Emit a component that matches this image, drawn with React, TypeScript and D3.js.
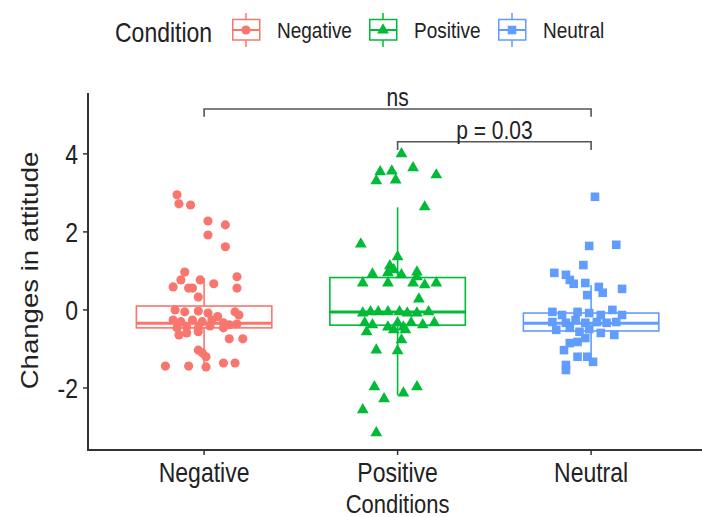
import React from "react";
import * as d3 from "d3";

// categories and colours (ggplot defaults)
const categories = ["Negative", "Positive", "Neutral"];
const colors = ["#F8766D", "#00BA38", "#619CFF"];
const yTicks = [-2, 0, 2, 4];

// [jitter (category units), change in attitude]
const negativePoints: [number, number][] = [
  [-0.14, 2.95], [-0.13, 2.72], [-0.07, 2.69], [0.02, 2.28], [0.11, 2.18],
  [0.02, 1.92], [0.11, 1.62], [-0.1, 0.97], [0.17, 0.85], [-0.12, 0.77],
  [-0.02, 0.77], [0.05, 0.67], [-0.16, 0.59], [-0.08, 0.56], [-0.06, 0.56],
  [0.17, 0.56], [-0.03, 0.33], [-0.15, 0.0], [-0.1, -0.05], [-0.03, -0.03],
  [0.02, -0.08], [0.07, -0.17], [0.16, -0.05], [0.18, -0.13], [-0.16, -0.26],
  [-0.12, -0.3], [-0.06, -0.26], [-0.01, -0.3], [0.04, -0.26], [0.1, -0.33],
  [0.13, -0.38], [0.17, -0.36], [-0.14, -0.46], [-0.09, -0.44], [-0.03, -0.46],
  [0.03, -0.41], [0.1, -0.46], [-0.13, -0.64], [-0.09, -0.59], [-0.03, -0.56],
  [0.13, -0.74], [0.2, -0.74], [-0.03, -1.03], [-0.01, -1.1], [0.01, -1.2],
  [-0.2, -1.44], [-0.08, -1.44], [0.01, -1.46], [0.1, -1.36], [0.16, -1.36],
];

const positivePoints: [number, number][] = [
  [0.02, 4.0], [-0.09, 3.54], [-0.03, 3.56], [0.08, 3.64], [0.2, 3.46],
  [-0.11, 3.31], [-0.01, 3.33], [0.14, 2.64], [-0.19, 1.69], [0.0, 1.36],
  [-0.04, 1.13], [-0.02, 1.03], [-0.05, 0.95], [0.02, 0.9], [-0.13, 0.92],
  [0.1, 0.97], [0.1, 0.85], [-0.18, 0.69], [-0.05, 0.69], [0.08, 0.69],
  [0.14, 0.64], [0.2, 0.69], [0.11, 0.28], [-0.18, -0.08], [-0.14, -0.05],
  [-0.1, -0.05], [-0.05, -0.05], [0.01, -0.05], [0.05, -0.08], [0.1, -0.08],
  [0.16, -0.05], [-0.17, -0.33], [-0.13, -0.38], [-0.05, -0.44], [0.0, -0.33],
  [0.03, -0.44], [0.07, -0.33], [0.13, -0.38], [0.19, -0.33], [-0.16, -0.56],
  [-0.02, -0.51], [0.04, -0.51], [0.02, -0.77], [-0.11, -1.03], [0.0, -1.05],
  [-0.12, -1.97], [-0.07, -2.28], [0.03, -2.13], [0.1, -1.97], [-0.18, -2.56],
  [-0.11, -3.15],
];

const neutralPoints: [number, number][] = [
  [0.02, 2.9], [-0.01, 1.64], [0.13, 1.67], [-0.04, 1.15], [-0.19, 0.95],
  [-0.13, 0.9], [-0.11, 0.77], [-0.09, 0.67], [-0.03, 0.69], [0.04, 0.59],
  [0.16, 0.54], [0.06, 0.44], [-0.02, 0.38], [-0.2, -0.05], [-0.15, -0.13],
  [-0.07, -0.05], [-0.01, -0.08], [0.05, -0.13], [0.11, 0.0], [0.16, -0.13],
  [-0.2, -0.31], [-0.13, -0.33], [-0.08, -0.26], [-0.03, -0.33], [0.03, -0.31],
  [0.08, -0.33], [0.13, -0.31], [-0.18, -0.51], [-0.11, -0.46], [-0.06, -0.56],
  [-0.01, -0.49], [0.05, -0.59], [0.12, -0.64], [-0.07, -0.82], [-0.03, -0.72],
  [-0.11, -0.85], [-0.14, -1.03], [-0.07, -1.2], [-0.02, -1.2], [0.01, -1.33],
  [-0.13, -1.41], [-0.13, -1.54],
];

// box stats: [lower whisker, q1, median, q3, upper whisker]
const boxStats: number[][] = [
  [-1.47, -0.46, -0.34, 0.1, 0.82],
  [-2.19, -0.39, -0.05, 0.83, 2.63],
  [-1.35, -0.54, -0.34, -0.08, 0.64],
];

// significance brackets: [from, to, bar level, tip level, label]
const brackets: [number, number, number, number, string][] = [
  [0, 2, 5.15, 4.95, "ns"],
  [1, 2, 4.31, 4.1, "p = 0.03"],
];

const allPoints = [negativePoints, positivePoints, neutralPoints];
const symbols = [d3.symbolCircle, d3.symbolTriangle, d3.symbolSquare];
const symbolSizes = [66, 60, 74];

// the picture is a little taller than wide, so text is stretched vertically
const STRETCH = 1.2;

const Txt = ({ x, y, size, anchor = "start", rotate = 0, children }: any) => (
  <text
    transform={`translate(${x},${y}) scale(1,${STRETCH})${rotate ? ` rotate(${rotate})` : ""}`}
    textAnchor={anchor}
    fontSize={size}
    fill="#222"
  >
    {children}
  </text>
);

const App = () => {
  const width = 702;
  const height = 517;
  const margin = { top: 93, left: 88, bottom: 67 };
  const font = "'Liberation Sans', Arial, Helvetica, sans-serif";
  const axisColor = "#333";

  const x = d3
    .scaleLinear()
    .domain([-0.6, 2.6])
    .range([margin.left, margin.left + 3.2 * 193.5]);
  const y = d3
    .scaleLinear()
    .domain([-3.59, 5.56])
    .range([height - margin.bottom, margin.top]);

  const boxHalf = 0.35;
  const shape = (i: number) =>
    d3.symbol().type(symbols[i]).size(symbolSizes[i])() as string;

  const legendX = [232, 369, 498];

  return (
    <svg
      width={width}
      height={height}
      style={{ position: "absolute", left: 0, top: 0, background: "#fff" }}
      fontFamily={font}
    >
      {/* legend */}
      <Txt x={115} y={42} size={23}>
        Condition
      </Txt>
      {categories.map((c, i) => {
        const lx = legendX[i];
        return (
          <g key={c} transform={`translate(${lx},0)`}>
            <line x1={14} x2={14} y1={13} y2={47} stroke={colors[i]} strokeWidth={1.5} />
            <rect x={0.75} y={19.5} width={27} height={20.5} fill="#fff" stroke={colors[i]} strokeWidth={1.5} />
            <line x1={0.75} x2={27.75} y1={30} y2={30} stroke={colors[i]} strokeWidth={2} />
            <path d={shape(i)} transform="translate(14,30)" fill={colors[i]} />
            <Txt x={45} y={38} size={19}>
              {c}
            </Txt>
          </g>
        );
      })}

      {/* boxes */}
      {boxStats.map((s, i) => (
        <g key={categories[i]} stroke={colors[i]} fill="none" strokeWidth={1.6}>
          <line x1={x(i)} x2={x(i)} y1={y(s[0])} y2={y(s[1])} />
          <line x1={x(i)} x2={x(i)} y1={y(s[3])} y2={y(s[4])} />
          <rect
            x={x(i - boxHalf)}
            y={y(s[3])}
            width={x(i + boxHalf) - x(i - boxHalf)}
            height={y(s[1]) - y(s[3])}
            fill="#fff"
          />
          <line x1={x(i - boxHalf)} x2={x(i + boxHalf)} y1={y(s[2])} y2={y(s[2])} strokeWidth={3} />
        </g>
      ))}

      {/* jittered points */}
      {allPoints.map((pts, i) => (
        <g key={categories[i]} fill={colors[i]}>
          {pts.map((p, k) => (
            <path key={k} d={shape(i)} transform={`translate(${x(i + p[0])},${y(p[1])})`} />
          ))}
        </g>
      ))}

      {/* brackets */}
      {brackets.map((b) => (
        <g key={b[4]}>
          <path
            d={`M${x(b[0])},${y(b[3])}V${y(b[2])}H${x(b[1])}V${y(b[3])}`}
            fill="none"
            stroke="#555"
            strokeWidth={1.6}
          />
          <Txt x={(x(b[0]) + x(b[1])) / 2} y={y(b[2]) - 3} size={21} anchor="middle">
            {b[4]}
          </Txt>
        </g>
      ))}

      {/* y axis */}
      <line x1={margin.left} x2={margin.left} y1={margin.top} y2={y.range()[0]} stroke={axisColor} strokeWidth={2} />
      {yTicks.map((t) => (
        <g key={t}>
          <line x1={margin.left - 5} x2={margin.left} y1={y(t)} y2={y(t)} stroke={axisColor} strokeWidth={1.5} />
          <Txt x={margin.left - 10} y={y(t) + 10} size={23} anchor="end">
            {t}
          </Txt>
        </g>
      ))}
      <Txt x={38} y={(margin.top + y.range()[0]) / 2 - 1} size={23} anchor="middle" rotate={-90}>
        Changes in attitude
      </Txt>

      {/* x axis */}
      <line x1={margin.left - 1} x2={width} y1={y.range()[0]} y2={y.range()[0]} stroke={axisColor} strokeWidth={2} />
      {categories.map((c, i) => (
        <g key={c}>
          <line x1={x(i)} x2={x(i)} y1={y.range()[0]} y2={y.range()[0] + 5} stroke={axisColor} strokeWidth={1.5} />
          <Txt x={x(i)} y={482} size={23} anchor="middle">
            {c}
          </Txt>
        </g>
      ))}
      <Txt x={x(1)} y={513} size={22} anchor="middle">
        Conditions
      </Txt>
    </svg>
  );
};

export default App;
